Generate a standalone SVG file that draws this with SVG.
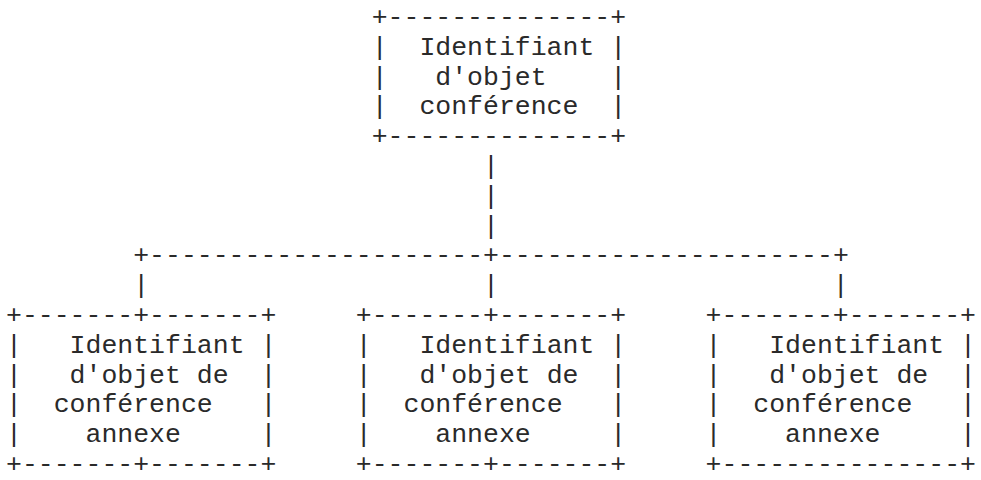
<svg xmlns="http://www.w3.org/2000/svg" width="981" height="480" viewBox="0 0 981 480">
<style>
  text { font-family: "Liberation Mono", "DejaVu Sans Mono", monospace; font-size: 26.5px; fill: #2a2a2a; white-space: pre; }
</style>
<rect width="981" height="480" fill="#ffffff"/>
<g id="connectors">
  <text x="483" y="174">|</text>
  <text x="483" y="203.8">|</text>
  <text x="483" y="233.6">|</text>
  <text x="133.2" y="263.4">+---------------------+---------------------+</text>
  <text x="133.2" y="293.2">|</text>
  <text x="483" y="293.2">|</text>
  <text x="832.8" y="293.2">|</text>
</g>
<g id="node-root">
  <text x="371.7" y="25">+--------------+</text>
  <text x="371.7" y="54.8">|  Identifiant |</text>
  <text x="371.7" y="84.6">|   d'objet    |</text>
  <text x="371.7" y="114.4">|  conférence  |</text>
  <text x="371.7" y="144.2">+--------------+</text>
</g>
<g id="node-annexe-1">
  <text x="6" y="323">+-------+-------+</text>
  <text x="6" y="352.8">|   Identifiant |</text>
  <text x="6" y="382.6">|   d'objet de  |</text>
  <text x="6" y="412.4">|  conférence   |</text>
  <text x="6" y="442.2">|    annexe     |</text>
  <text x="6" y="472">+-------+-------+</text>
</g>
<g id="node-annexe-2">
  <text x="355.8" y="323">+-------+-------+</text>
  <text x="355.8" y="352.8">|   Identifiant |</text>
  <text x="355.8" y="382.6">|   d'objet de  |</text>
  <text x="355.8" y="412.4">|  conférence   |</text>
  <text x="355.8" y="442.2">|    annexe     |</text>
  <text x="355.8" y="472">+-------+-------+</text>
</g>
<g id="node-annexe-3">
  <text x="705.6" y="323">+-------+-------+</text>
  <text x="705.6" y="352.8">|   Identifiant |</text>
  <text x="705.6" y="382.6">|   d'objet de  |</text>
  <text x="705.6" y="412.4">|  conférence   |</text>
  <text x="705.6" y="442.2">|    annexe     |</text>
  <text x="705.6" y="472">+---------------+</text>
</g>
</svg>
